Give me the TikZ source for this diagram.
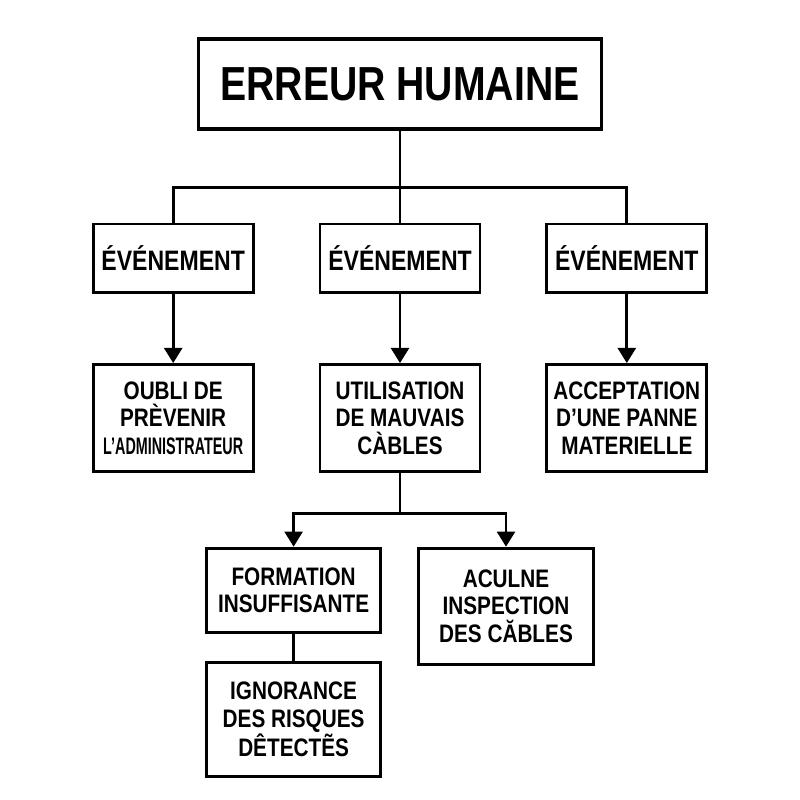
\documentclass[tikz,border=0pt]{standalone}
\usepackage{fontspec}
\setmainfont[FakeStretch=0.82]{Liberation Sans}
\newfontfamily\narrowfont[FakeStretch=0.6]{Liberation Sans}
\usetikzlibrary{arrows.meta, positioning, calc}
\tikzset{
  topbox/.style={rectangle, draw=black, line width=2.4pt, minimum width=10.08cm, minimum height=2.25cm, text centered, font=\bfseries\fontsize{34}{40}\selectfont},
  eventbox/.style={rectangle, draw=black, line width=2pt, minimum width=4.0cm, minimum height=1.72cm, text centered, font=\bfseries\fontsize{20}{24}\selectfont},
  causebox/.style={rectangle, draw=black, line width=2pt, minimum width=4.0cm, minimum height=2.67cm, align=center, font=\bfseries\fontsize{18}{19.6}\selectfont},
  arrowline/.style={-{Triangle[width=0.45cm, length=0.38cm]}, line width=2pt},
  linkline/.style={line width=2pt},
}
\begin{document}
\begin{tikzpicture}[node distance=1.72cm]
\useasboundingbox[fill=white] (0,0) rectangle (20,20);
\node[topbox] (top) at (10,17.9) {ERREUR HUMAINE};
\node[eventbox, below=2.3cm of top] (evm) {ÉVÉNEMENT};
\node[eventbox, left=1.6cm of evm] (evl) {ÉVÉNEMENT};
\node[eventbox, right=1.6cm of evm] (evr) {ÉVÉNEMENT};
\node[causebox, below=of evl] (oubli) {OUBLI DE\\PRÈVENIR\\{\narrowfont\fontsize{17}{19.6}\selectfont L’ADMINISTRATEUR}};
\node[causebox, below=of evm] (util) {UTILISATION\\DE MAUVAIS\\CÀBLES};
\node[causebox, below=of evr] (panne) {ACCEPTATION\\D’UNE PANNE\\MATERIELLE};
\node[causebox, minimum width=4.36cm, minimum height=2.1cm, below=1.85cm of util, xshift=-2.66cm] (form) {FORMATION\\INSUFFISANTE};
\node[causebox, minimum width=4.38cm, minimum height=2.9cm, below=1.85cm of util, xshift=2.65cm] (aculne) {ACULNE\\INSPECTION\\DES CĂBLES};
\node[causebox, minimum width=4.36cm, minimum height=2.85cm, below=0.68cm of form] (ignor) {IGNORANCE\\DES RISQUES\\DÊTECTẼS};

\draw[linkline] (top) -- (evm);
\draw[linkline] (evl.north) -- ++(0,0.875) -| (evr.north);
\draw[arrowline] (evl) -- (oubli);
\draw[arrowline] (evm) -- (util);
\draw[arrowline] (evr) -- (panne);
\draw[linkline] (util.south) -- ++(0,-1.02) coordinate (split);
\draw[arrowline] (split) -| (form.north);
\draw[arrowline] (split) -| (aculne.north);
\draw[linkline] (form) -- (ignor);
\end{tikzpicture}
\end{document}
